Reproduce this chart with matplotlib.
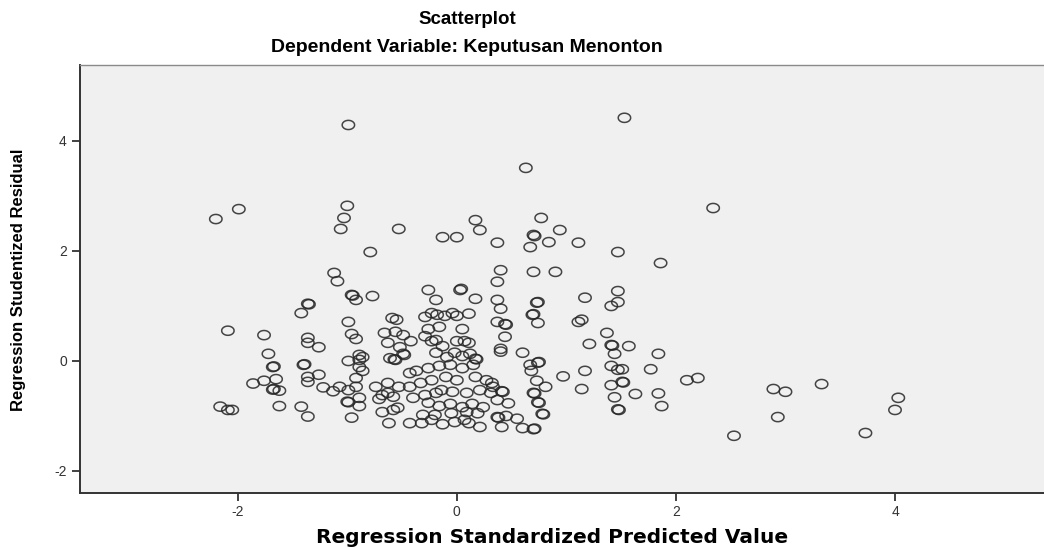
import numpy as np
import matplotlib
matplotlib.use("Agg")
import matplotlib.pyplot as plt
from matplotlib.path import Path

plt.rcParams["axes.unicode_minus"] = False

# Regression Standardized Predicted Value / Regression Studentized Residual
pred = [
    1.53, -0.99, 0.63, -2.20, -1.99, -1.00, -1.03, -1.06, 2.34, -0.53,
    0.17, 0.21, -0.13, 0.00, 0.37, 0.77, 0.94, 0.70, 0.71, 0.67,
    0.84, 1.11, 1.47, 1.86, -0.79, 0.40, 0.70, 0.90, -1.12, -1.09,
    0.37, 0.04, 0.03, -0.26, -0.96, -0.95, -0.92, -0.77, -0.19, 0.17,
    0.37, 0.74, 0.73, 1.17, 1.47, 1.47, 1.41, 0.40, 0.70, 0.69,
    -1.42, -1.36, -1.35,
    -0.99, -0.59, -0.55, -0.29, -0.23, -0.18, -0.11, -0.04, 0.00, 0.11,
    0.37, 0.44, 0.45, 0.74, 1.11, 1.14,
    -2.09, -1.76, -1.36, -1.36, -1.26, -0.96, -0.92, -0.66, -0.56, -0.49,
    -0.42, -0.29, -0.26, -0.16, -0.23, -0.19, 0.05, 0.00, 0.07, 0.11,
    -0.13, -0.63, -0.52, 0.44, 1.21, 1.37, 1.41, 1.42, 1.57,
    -1.72, -1.68, -1.67, -1.40, -1.39, -0.99, -0.89, -0.86, -0.89, -0.89,
    -0.86, -0.61, -0.57, -0.56, -0.48, -0.49, -0.19, -0.09, -0.02, 0.05,
    0.12, 0.17, 0.18, 0.40, 0.40, 0.60, 0.74, 0.75, 0.67, 0.68,
    1.44, 1.84, 1.41, 1.47, 1.51, 1.77, 1.17, -0.37, -0.26, -0.16,
    -0.06, 0.05, 0.15, -0.43,
    -1.65, -1.76, -1.86, -1.68, -1.67, -1.62, -1.36, -1.36, -1.26, -1.22,
    -1.13, -1.07, -0.99, -0.92, -0.92, -0.74, -0.63, -0.53, -0.63, -0.43,
    -0.33, -0.23, -0.10, 0.00, 0.17, 0.27, -0.29, -0.19, -0.14, -0.04,
    0.09, 0.21, 0.31, 0.32, 0.33, 0.41, 0.42, 0.73, 0.81, 0.70,
    0.71, 0.97, 1.14, 1.51, 1.52, 1.41, 1.63, 1.84, 2.10, 2.20,
    2.89, 3.00, 3.33, 4.03,
    -2.16, -2.09, -2.05, -1.62, -1.42, -1.36, -1.00, -0.99, -0.89, -0.89,
    -0.96, -0.71, -0.68, -0.58, -0.40, -0.26, -0.16, -0.06, 0.05, 0.14,
    0.24, -0.68, -0.58, -0.54, -0.31, -0.20, -0.05, 0.09, 0.19, -0.62,
    -0.43, -0.32, -0.23, -0.13, -0.02, 0.07, 0.11, 0.21, 0.37, 0.47,
    0.74, 0.75, 0.37, 0.38, 0.45, 0.41, 0.55, 0.60, 0.70, 0.71,
    0.78, 0.79, 1.44, 1.47, 1.48, 1.87, 2.53, 2.93, 3.73, 4.00,
]
resid = [
    4.42, 4.29, 3.51, 2.58, 2.76, 2.82, 2.60, 2.40, 2.78, 2.40,
    2.56, 2.38, 2.25, 2.25, 2.15, 2.60, 2.38, 2.29, 2.27, 2.07,
    2.16, 2.15, 1.98, 1.78, 1.98, 1.65, 1.62, 1.62, 1.60, 1.45,
    1.44, 1.31, 1.29, 1.29, 1.20, 1.19, 1.11, 1.18, 1.11, 1.13,
    1.11, 1.07, 1.06, 1.15, 1.27, 1.07, 1.00, 0.95, 0.85, 0.84,
    0.87, 1.04, 1.03,
    0.71, 0.78, 0.75, 0.80, 0.87, 0.84, 0.82, 0.87, 0.82, 0.86,
    0.71, 0.67, 0.66, 0.69, 0.71, 0.75,
    0.55, 0.47, 0.42, 0.33, 0.25, 0.49, 0.40, 0.51, 0.53, 0.47,
    0.36, 0.45, 0.58, 0.62, 0.36, 0.38, 0.58, 0.36, 0.36, 0.33,
    0.27, 0.33, 0.25, 0.44, 0.31, 0.51, 0.29, 0.28, 0.27,
    0.13, -0.11, -0.10, -0.07, -0.06, 0.00, 0.11, 0.07, 0.02, -0.11,
    -0.18, 0.05, 0.03, 0.02, 0.11, 0.13, 0.15, 0.07, 0.15, 0.09,
    0.13, 0.04, 0.03, 0.22, 0.17, 0.15, -0.03, -0.02, -0.07, -0.18,
    0.13, 0.13, -0.09, -0.16, -0.15, -0.15, -0.18, -0.18, -0.13, -0.09,
    -0.07, -0.13, -0.07, -0.22,
    -0.33, -0.36, -0.41, -0.52, -0.51, -0.54, -0.29, -0.38, -0.25, -0.48,
    -0.55, -0.47, -0.53, -0.31, -0.47, -0.47, -0.40, -0.47, -0.58, -0.47,
    -0.40, -0.35, -0.29, -0.35, -0.29, -0.35, -0.62, -0.58, -0.53, -0.56,
    -0.58, -0.53, -0.58, -0.40, -0.47, -0.55, -0.56, -0.36, -0.47, -0.58,
    -0.59, -0.28, -0.51, -0.38, -0.39, -0.44, -0.60, -0.59, -0.35, -0.31,
    -0.51, -0.56, -0.42, -0.67,
    -0.83, -0.89, -0.89, -0.82, -0.83, -1.01, -0.74, -0.75, -0.67, -0.82,
    -1.03, -0.69, -0.62, -0.65, -0.67, -0.76, -0.82, -0.78, -0.84, -0.78,
    -0.84, -0.93, -0.89, -0.85, -0.98, -0.98, -0.95, -0.93, -0.95, -1.13,
    -1.13, -1.13, -1.07, -1.15, -1.11, -1.07, -1.13, -1.20, -0.71, -0.77,
    -0.75, -0.76, -1.02, -1.03, -1.00, -1.20, -1.05, -1.22, -1.24, -1.23,
    -0.96, -0.97, -0.66, -0.88, -0.89, -0.82, -1.36, -1.02, -1.31, -0.89,
]

ticks = [-2, 0, 2, 4]

# slightly flattened circle, like the SPSS marker
t = np.linspace(0, 2 * np.pi, 60)
ellipse = Path(np.column_stack([1.35 * np.cos(t), np.sin(t)]))

fig = plt.figure(figsize=(10.44, 5.48), dpi=100)
ax = fig.add_axes([80 / 1044, 55 / 548, 1 - 80 / 1044, 428 / 548])
ax.set_facecolor("#f0f0f0")

ax.scatter(pred, resid, marker=ellipse, s=80, facecolors="none",
           edgecolors="#262626", linewidths=1.1, alpha=0.85)

ax.set_xlim(-3.44, 5.36)
ax.set_ylim(-2.4, 5.38)
ax.set_xticks(ticks)
ax.set_yticks(ticks)
ax.tick_params(direction="out", length=6, width=1.3, color="#333333",
               labelsize=10, labelcolor="#333333")
for lab in ax.get_xticklabels() + ax.get_yticklabels():
    lab.set_family("Liberation Sans")
ax.tick_params(axis="x", pad=3)

for side in ("left", "bottom"):
    ax.spines[side].set_color("#333333")
    ax.spines[side].set_linewidth(1.4)
ax.spines["top"].set_color("#8a8a8a")
ax.spines["top"].set_linewidth(1.0)
ax.spines["right"].set_visible(False)

ax.set_ylabel("Regression Studentized Residual", fontsize=12,
              fontweight="bold", family="Liberation Sans")
ax.yaxis.set_label_coords(-54 / 964, (493 - 280) / 428)
ax.set_xlabel("Regression Standardized Predicted Value", fontsize=14.5,
              fontweight="bold", family="DejaVu Sans")
ax.xaxis.set_label_coords((552 - 80) / 964, -0.082)

fig.text(467 / 1044, 1 - 19 / 548, "Scatterplot", ha="center", va="center",
         fontsize=13.5, fontweight="bold", family="Liberation Sans")
fig.text(467 / 1044, 1 - 48 / 548, "Dependent Variable: Keputusan Menonton",
         ha="center", va="center", fontsize=14, fontweight="bold",
         family="Liberation Sans")

fig.savefig("out.png", dpi=100)
